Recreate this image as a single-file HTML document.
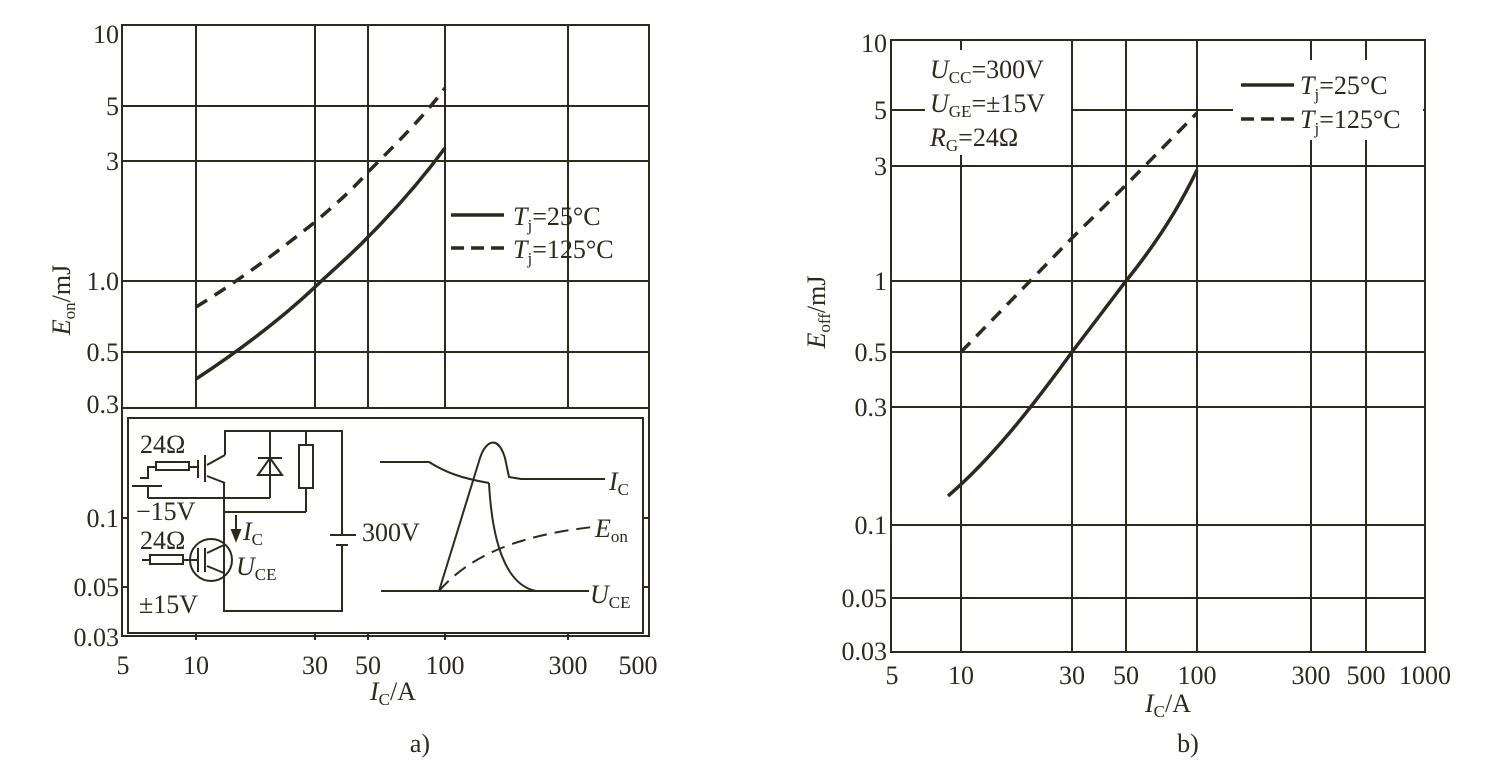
<!DOCTYPE html>
<html><head><meta charset="utf-8"><style>
body{margin:0;background:#fff;}
svg{display:block;font-family:"Liberation Serif",serif;}
</style></head><body>
<svg width="1507" height="765" viewBox="0 0 1507 765" xmlns="http://www.w3.org/2000/svg">
<g stroke="#2b2a1c" fill="none" stroke-width="2">
<rect x="122" y="25" width="527" height="611"/>
<line x1="196" y1="25" x2="196" y2="408"/><line x1="315" y1="25" x2="315" y2="408"/>
<line x1="368" y1="25" x2="368" y2="408"/><line x1="445" y1="25" x2="445" y2="408"/>
<line x1="568" y1="25" x2="568" y2="408"/>
<line x1="122" y1="106" x2="649" y2="106"/><line x1="122" y1="161" x2="649" y2="161"/>
<line x1="122" y1="281" x2="649" y2="281"/><line x1="122" y1="352" x2="649" y2="352"/>
<line x1="122" y1="408" x2="649" y2="408"/>
<rect x="128" y="418" width="515" height="215"/>
<line x1="122" y1="518" x2="128" y2="518"/><line x1="643" y1="518" x2="649" y2="518"/>
<line x1="122" y1="587" x2="128" y2="587"/><line x1="643" y1="587" x2="649" y2="587"/>
<line x1="196" y1="633" x2="196" y2="640"/><line x1="315" y1="633" x2="315" y2="640"/>
<line x1="368" y1="633" x2="368" y2="640"/><line x1="445" y1="633" x2="445" y2="640"/>
<line x1="568" y1="633" x2="568" y2="640"/>
<path d="M196,379 C240,350 280,320 315,287 C335,268 352,254 368,237 C400,205 425,175 445,148" stroke-width="3.5"/>
<path d="M196,307 C240,280 280,250 315,222 C335,205 352,190 368,172 C400,140 425,115 445,88" stroke-width="3.5" stroke-dasharray="13,9"/>
<line x1="451" y1="215" x2="504" y2="215" stroke-width="3.5"/>
<line x1="451" y1="248" x2="504" y2="248" stroke-width="3.5" stroke-dasharray="13,7"/>
<polyline points="225,455 225,431 342,431 342,535"/>
<polyline points="342,545 342,611 224,611 224,483"/>
<line x1="330" y1="535" x2="356" y2="535"/><line x1="336" y1="545" x2="348" y2="545"/>
<line x1="225" y1="455" x2="207" y2="465"/><line x1="207" y1="476" x2="225" y2="483"/>
<line x1="205" y1="455" x2="205" y2="482"/><line x1="198" y1="460" x2="198" y2="478"/>
<line x1="225" y1="512" x2="306" y2="512"/>
<polyline points="306,431 306,445"/><rect x="299" y="445" width="14" height="43"/><line x1="306" y1="488" x2="306" y2="512"/>
<line x1="270" y1="431" x2="270" y2="498"/>
<polygon points="258,475 282,475 270,458"/><line x1="258" y1="458" x2="282" y2="458"/>
<polyline points="148,498 270,498"/>
<rect x="156" y="462" width="33" height="8"/><line x1="189" y1="467" x2="198" y2="467"/>
<polyline points="156,467 148,467 148,478 140,478"/><line x1="132" y1="486" x2="162" y2="486"/><line x1="148" y1="486" x2="148" y2="498"/>
<circle cx="211" cy="560" r="21"/>
<line x1="205" y1="548" x2="205" y2="572"/><line x1="198" y1="548" x2="198" y2="572"/>
<line x1="224" y1="545" x2="207" y2="553"/><line x1="207" y1="566" x2="224" y2="573"/>
<rect x="150" y="555" width="33" height="9"/><line x1="183" y1="560" x2="198" y2="560"/><line x1="142" y1="560" x2="150" y2="560"/>
<line x1="236" y1="515" x2="236" y2="538"/><polygon points="232,530 240,530 236,540" fill="#2b2a1c"/>
<path d="M380,462 L429,462 C445,472 460,478 489,483 L489,483"/>
<path d="M439,591 L480,458 C486,440 498,435 505,458 L509,477 L521,479 L605,479"/>
<path d="M381,591 L589,591"/>
<path d="M489,483 C492,540 505,585 536,591"/>
<path d="M439,591 C470,555 520,535 593,527" stroke-dasharray="14,8"/>
<rect x="891" y="40" width="534" height="612"/>
<line x1="961" y1="40" x2="961" y2="652"/><line x1="1072" y1="40" x2="1072" y2="652"/>
<line x1="1126" y1="40" x2="1126" y2="652"/><line x1="1197" y1="40" x2="1197" y2="652"/>
<line x1="1311" y1="40" x2="1311" y2="652"/><line x1="1366" y1="40" x2="1366" y2="652"/>
<line x1="891" y1="110" x2="1425" y2="110"/><line x1="891" y1="166" x2="1425" y2="166"/>
<line x1="891" y1="281" x2="1425" y2="281"/><line x1="891" y1="352" x2="1425" y2="352"/>
<line x1="891" y1="407" x2="1425" y2="407"/><line x1="891" y1="525" x2="1425" y2="525"/>
<line x1="891" y1="598" x2="1425" y2="598"/>
</g>
<rect x="925" y="50" width="146" height="105" fill="#fff"/>
<rect x="1233" y="60" width="190" height="80" fill="#fff"/>
<g stroke="#2b2a1c" fill="none" stroke-width="3.5">
<path d="M948,496 C990,460 1030,410 1072,352 C1090,328 1108,305 1126,281 C1155,245 1178,210 1197,170"/>
<path d="M961,352 L1072,238 L1126,185 L1197,113" stroke-dasharray="13,9"/>
<line x1="1241" y1="85" x2="1294" y2="85"/>
<line x1="1241" y1="119" x2="1294" y2="119" stroke-dasharray="13,7"/>
</g>
<g fill="#2b2a1c" font-size="26">
<g text-anchor="end">
<text x="119" y="43">10</text><text x="119" y="115">5</text><text x="119" y="170">3</text>
<text x="119" y="290">1.0</text><text x="119" y="361">0.5</text><text x="119" y="413">0.3</text>
<text x="119" y="527">0.1</text><text x="119" y="596">0.05</text><text x="119" y="646">0.03</text>
<text x="887" y="52">10</text><text x="887" y="119">5</text><text x="887" y="175">3</text>
<text x="887" y="290">1</text><text x="887" y="361">0.5</text><text x="887" y="416">0.3</text>
<text x="887" y="534">0.1</text><text x="887" y="607">0.05</text><text x="887" y="660">0.03</text>
</g>
<g text-anchor="middle">
<text x="123" y="674">5</text><text x="196" y="674">10</text><text x="315" y="674">30</text><text x="368" y="674">50</text>
<text x="445" y="674">100</text><text x="568" y="674">300</text><text x="638" y="674">500</text>
<text x="892" y="684">5</text><text x="961" y="684">10</text><text x="1072" y="684">30</text><text x="1126" y="684">50</text>
<text x="1197" y="684">100</text><text x="1311" y="684">300</text><text x="1366" y="684">500</text><text x="1425" y="684">1000</text>
<text x="393" y="700"><tspan font-style="italic">I</tspan><tspan font-size="17" dy="5">C</tspan><tspan dy="-5">/A</tspan></text>
<text x="1168" y="712"><tspan font-style="italic">I</tspan><tspan font-size="17" dy="5">C</tspan><tspan dy="-5">/A</tspan></text>
<text x="420" y="752">a)</text><text x="1188" y="752">b)</text>
</g>
<text transform="translate(70,300) rotate(-90)" text-anchor="middle"><tspan font-style="italic">E</tspan><tspan font-size="17" dy="5">on</tspan><tspan dy="-5">/mJ</tspan></text>
<text transform="translate(825,312) rotate(-90)" text-anchor="middle"><tspan font-style="italic">E</tspan><tspan font-size="17" dy="5">off</tspan><tspan dy="-5">/mJ</tspan></text>
<text x="513" y="225"><tspan font-style="italic">T</tspan><tspan font-size="17" dy="6">j</tspan><tspan dy="-6">=25°C</tspan></text>
<text x="513" y="258"><tspan font-style="italic">T</tspan><tspan font-size="17" dy="6">j</tspan><tspan dy="-6">=125°C</tspan></text>
<text x="1300" y="94"><tspan font-style="italic">T</tspan><tspan font-size="17" dy="6">j</tspan><tspan dy="-6">=25°C</tspan></text>
<text x="1300" y="128"><tspan font-style="italic">T</tspan><tspan font-size="17" dy="6">j</tspan><tspan dy="-6">=125°C</tspan></text>
<text x="930" y="78"><tspan font-style="italic">U</tspan><tspan font-size="17" dy="5">CC</tspan><tspan dy="-5">=300V</tspan></text>
<text x="930" y="112"><tspan font-style="italic">U</tspan><tspan font-size="17" dy="5">GE</tspan><tspan dy="-5">=±15V</tspan></text>
<text x="930" y="146"><tspan font-style="italic">R</tspan><tspan font-size="17" dy="5">G</tspan><tspan dy="-5">=24Ω</tspan></text>
<text x="140" y="453">24Ω</text><text x="136" y="520">−15V</text>
<text x="140" y="549">24Ω</text><text x="139" y="613">±15V</text>
<text x="243" y="540"><tspan font-style="italic">I</tspan><tspan font-size="17" dy="5">C</tspan></text>
<text x="236" y="575"><tspan font-style="italic">U</tspan><tspan font-size="17" dy="5">CE</tspan></text>
<text x="362" y="541">300V</text>
<text x="609" y="490"><tspan font-style="italic">I</tspan><tspan font-size="17" dy="5">C</tspan></text>
<text x="595" y="537"><tspan font-style="italic">E</tspan><tspan font-size="17" dy="5">on</tspan></text>
<text x="590" y="603"><tspan font-style="italic">U</tspan><tspan font-size="17" dy="5">CE</tspan></text>
</g>
</svg>
</body></html>
